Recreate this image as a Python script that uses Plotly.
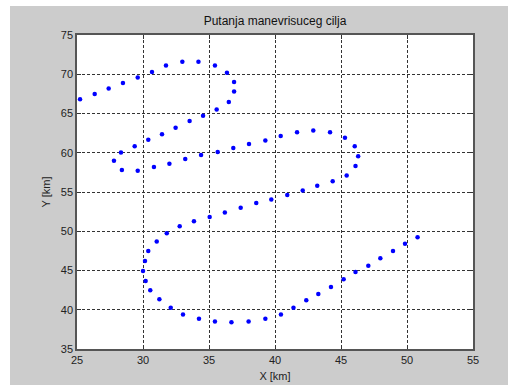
import plotly.graph_objects as go

x_km = [25.23, 26.34, 27.4, 28.48, 29.6, 30.68, 31.74, 32.98, 34.2, 35.45, 36.36, 36.9, 36.9, 36.5,
        35.58, 34.55, 33.53, 32.47, 31.44, 30.4, 29.37, 28.33, 27.8, 28.4, 29.6, 30.83, 32.0, 33.2,
        34.4, 35.66, 36.84, 38.03, 39.27, 40.43, 41.67, 42.9, 44.17, 45.3, 46.04, 46.3, 46.1, 45.43,
        44.37, 43.2, 42.1, 40.93, 39.72, 38.58, 37.4, 36.2, 35.05, 33.86, 32.78, 31.8, 31.04, 30.4,
        30.15, 30.0, 30.2, 30.55, 31.24, 32.1, 33.03, 34.24, 35.45, 36.7, 38.0, 39.27, 40.45, 41.4,
        42.37, 43.28, 44.24, 45.2, 46.1, 47.07, 47.98, 48.94, 49.85, 50.8]
y_km = [66.8, 67.5, 68.2, 68.9, 69.6, 70.3, 71.1, 71.6, 71.6, 71.1, 70.2, 69.0, 67.8, 66.45,
        65.5, 64.7, 64.03, 63.18, 62.37, 61.65, 60.84, 60.04, 58.97, 57.8, 57.7, 58.2, 58.6, 59.2,
        59.7, 60.1, 60.6, 61.1, 61.56, 62.12, 62.6, 62.84, 62.6, 61.9, 60.84, 59.57, 58.3, 57.1,
        56.38, 55.8, 55.2, 54.63, 54.06, 53.6, 53.0, 52.4, 51.8, 51.27, 50.64, 49.74, 48.68, 47.5,
        46.2, 44.94, 43.66, 42.5, 41.33, 40.26, 39.4, 38.86, 38.5, 38.4, 38.5, 38.86, 39.4, 40.26,
        41.2, 42.0, 42.9, 43.9, 44.8, 45.6, 46.55, 47.5, 48.4, 49.23]

x_ticks = [25, 30, 35, 40, 45, 50, 55]
y_ticks = [35, 40, 45, 50, 55, 60, 65, 70, 75]
title_text = "Putanja manevrisuceg cilja"
x_label = "X [km]"
y_label = "Y [km]"

W, H = 508, 385
L, R, T, B = 77, 35, 35, 36
pw, ph = W - L - R, H - T - B

fig = go.Figure()
fig.add_trace(go.Scatter(x=x_km, y=y_km, mode="markers",
                         marker=dict(color="#0000ff", size=4.5, line=dict(width=0)),
                         showlegend=False, hoverinfo="skip"))

font = dict(family="Liberation Sans, Arial, sans-serif", size=11, color="#222222")
axis_common = dict(showgrid=True, gridcolor="#333333", griddash="3px,2px", gridwidth=1,
                   showline=True, linecolor="#555555", linewidth=1.5, mirror="ticks",
                   ticks="inside", ticklen=4, tickcolor="#333333", zeroline=False,
                   tickfont=font, automargin=False)

fig.update_xaxes(range=[25, 55], tickvals=x_ticks, ticktext=[str(v) for v in x_ticks],
                 title=dict(text=x_label, font=font, standoff=7), **axis_common)
fig.update_yaxes(range=[35, 75], tickvals=y_ticks, ticktext=[str(v) for v in y_ticks],
                 title=dict(text=y_label, font=font, standoff=8), **axis_common)

px = lambda p: (p - L) / pw
py = lambda p: (H - B - p) / ph
fig.add_shape(type="rect", xref="paper", yref="paper", x0=px(0), x1=px(10), y0=py(H), y1=py(0),
              fillcolor="white", line=dict(width=0), layer="below")
fig.add_shape(type="rect", xref="paper", yref="paper", x0=px(0), x1=px(W), y0=py(6), y1=py(0),
              fillcolor="white", line=dict(width=0), layer="below")

fig.update_layout(
    width=W, height=H, margin=dict(l=L, r=R, t=T, b=B, autoexpand=False),
    paper_bgcolor="#cccccc", plot_bgcolor="white",
    title=dict(text=title_text, x=0.5, xref="paper", xanchor="center",
               y=1 - 21 / H, yanchor="middle",
               font=dict(family="Liberation Sans, Arial, sans-serif", size=12, color="#111111")),
)

fig.write_html("out.html", config={"displayModeBar": False},
               post_script="document.body.style.margin='0';"
                           "document.documentElement.style.overflow='hidden';"
                           "document.body.style.overflow='hidden';")
